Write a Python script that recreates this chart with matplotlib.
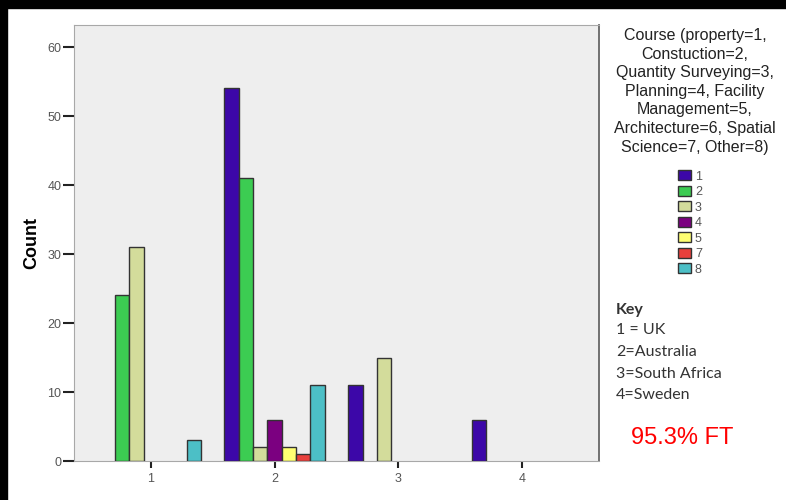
import numpy as np
import matplotlib.pyplot as plt
from matplotlib.patches import Patch, Rectangle

plt.rcParams['font.family'] = ['Liberation Sans', 'DejaVu Sans']

# country on x axis, one bar per course
countries = [1, 2, 3, 4]
course_labels = ['1', '2', '3', '4', '5', '7', '8']
course_1 = [0, 54, 11, 6]
course_2 = [24, 41, 0, 0]
course_3 = [31, 2, 15, 0]
course_4 = [0, 6, 0, 0]
course_5 = [0, 2, 0, 0]
course_7 = [0, 1, 0, 0]
course_8 = [3, 11, 0, 0]
colors = ['#3c07a8', '#3ccc52', '#d3dc9b', '#7b0080', '#ffff72', '#e8403c', '#4cbfc6']

key_lines = ['1 = UK', '2=Australia', '3=South Africa', '4=Sweden']

series = [course_1, course_2, course_3, course_4, course_5, course_7, course_8]

fig = plt.figure(figsize=(7.86, 5), dpi=100)
ax = fig.add_axes([74/786, 39/500, 525/786, 436/500])
ax.set_facecolor('#eeeeee')

w = 0.116
n = len(series)
x = np.array(countries, dtype=float)
for i, vals in enumerate(series):
    for xi, v in zip(x, vals):
        if v == 0:
            continue
        ax.bar(xi + (i - (n - 1) / 2) * w, v, width=w, color=colors[i],
               edgecolor='#333333', linewidth=1.0, zorder=3)

ax.set_xlim(0.38, 4.62)
ax.set_ylim(0, 63.2)
ax.set_xticks(countries)
ax.set_yticks([0, 10, 20, 30, 40, 50, 60])
ax.tick_params(axis='y', length=8, width=1.5, color='#222222', labelsize=9,
               labelcolor='#555555', pad=1)
ax.tick_params(axis='x', length=5, width=1.5, color='#222222', labelsize=9,
               labelcolor='#555555', pad=4)
for s in ['top', 'left', 'bottom']:
    ax.spines[s].set_color('#a8a8a8')
ax.spines['right'].set_color('#666666')
ax.spines['right'].set_linewidth(1.3)
ax.set_ylabel('Count', fontsize=13, fontweight='bold', labelpad=5)

# legend
fig.text(695/786, 1 - 28/500, 'Course (property=1,\nConstuction=2,\nQuantity Surveying=3,\n'
         'Planning=4, Facility\nManagement=5,\nArchitecture=6, Spatial\nScience=7, Other=8)',
         ha='center', va='top', fontsize=11.5, color='#222222', linespacing=1.3)
handles = [Patch(facecolor=c, edgecolor='#333333', linewidth=1.0) for c in colors]
fig.legend(handles, course_labels, loc='upper left', bbox_to_anchor=(678/786, 1 - 170/500),
           frameon=False, labelspacing=0.24, handlelength=1.05,
           handleheight=0.9, handletextpad=0.3, borderpad=0, borderaxespad=0,
           labelcolor='#555555', prop={'size': 9})

# key text
fig.text(616/786, 1 - 310/500, 'Key', fontsize=11.5, fontweight='bold', family='Lato',
         color='#333333', va='center')
ys = [330, 352, 374, 395]
for t, yy in zip(key_lines, ys):
    fig.text(616/786, 1 - yy/500, t, fontsize=11.5, family='Lato', color='#333333', va='center')

fig.text(682/786, 1 - 438/500, '95.3% FT', fontsize=17, color='#ff0000',
         ha='center', va='center')

# black frame edges
fig.add_artist(Rectangle((0, 0), 7/786, 1, transform=fig.transFigure, color='black'))
fig.add_artist(Rectangle((0, 1 - 8/500), 1, 8/500, transform=fig.transFigure, color='black'))

fig.savefig('out.png', dpi=100)
